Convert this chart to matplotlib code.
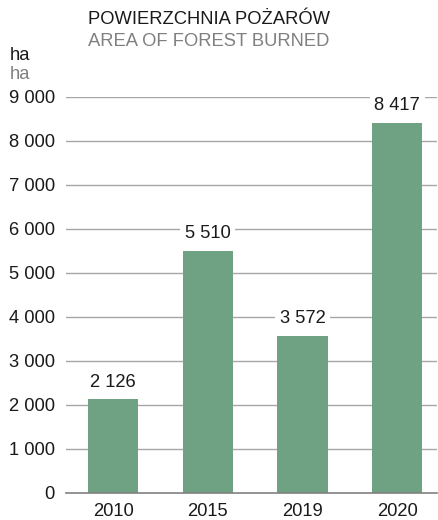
import matplotlib
matplotlib.use("Agg")
import matplotlib.pyplot as plt
from matplotlib.ticker import FuncFormatter

plt.rcParams['font.family'] = ['Liberation Sans', 'DejaVu Sans']

years = ["2010", "2015", "2019", "2020"]
area_ha = [2126, 5510, 3572, 8417]
yticks = [0, 1000, 2000, 3000, 4000, 5000, 6000, 7000, 8000, 9000]

bar_color = "#6fa283"
grid_color = "#a6a6a6"
fs = 13.2

fig = plt.figure(figsize=(4.39, 5.2), dpi=100)
ax = fig.add_axes([0.150, 0.052, 0.845, 0.7615])

x = list(range(len(years)))
ax.bar(x, area_ha, width=0.53, color=bar_color, zorder=2)

ax.set_ylim(0, 9000)
ax.set_xlim(-0.5, 3.42)
ax.set_yticks(yticks)
ax.yaxis.set_major_formatter(FuncFormatter(lambda v, p: f"{int(v):,}".replace(",", " ")))
ax.set_xticks(x)
ax.set_xticklabels(years)
ax.tick_params(axis='both', length=0, labelsize=fs, colors="#1a1a1a")
ax.tick_params(axis='y', pad=8)
ax.tick_params(axis='x', pad=7)

for v in yticks[1:]:
    ax.axhline(v, color=grid_color, lw=1.0, zorder=1)
for s in ["top", "right", "left"]:
    ax.spines[s].set_visible(False)
ax.spines["bottom"].set_color("#808080")
ax.spines["bottom"].set_linewidth(1.2)

for xi, v in zip(x, area_ha):
    ax.annotate(f"{v:,}".replace(",", " "), (xi, v), xytext=(0, 6),
                textcoords="offset points", ha="center", va="bottom",
                fontsize=fs, color="#1a1a1a", zorder=3,
                bbox=dict(boxstyle="square,pad=0.25", fc="white", ec="none"))

fig.text(88 / 439, 1 - 20 / 520, "POWIERZCHNIA POŻARÓW", fontsize=fs,
         color="#1a1a1a", ha="left", va="center")
fig.text(88 / 439, 1 - 42 / 520, "AREA OF FOREST BURNED", fontsize=fs,
         color="#808080", ha="left", va="center")
fig.text(10 / 439, 1 - 55 / 520, "ha", fontsize=fs, color="#1a1a1a",
         ha="left", va="center")
fig.text(10 / 439, 1 - 75 / 520, "ha", fontsize=fs, color="#808080",
         ha="left", va="center")

fig.savefig("out.png", dpi=100)
